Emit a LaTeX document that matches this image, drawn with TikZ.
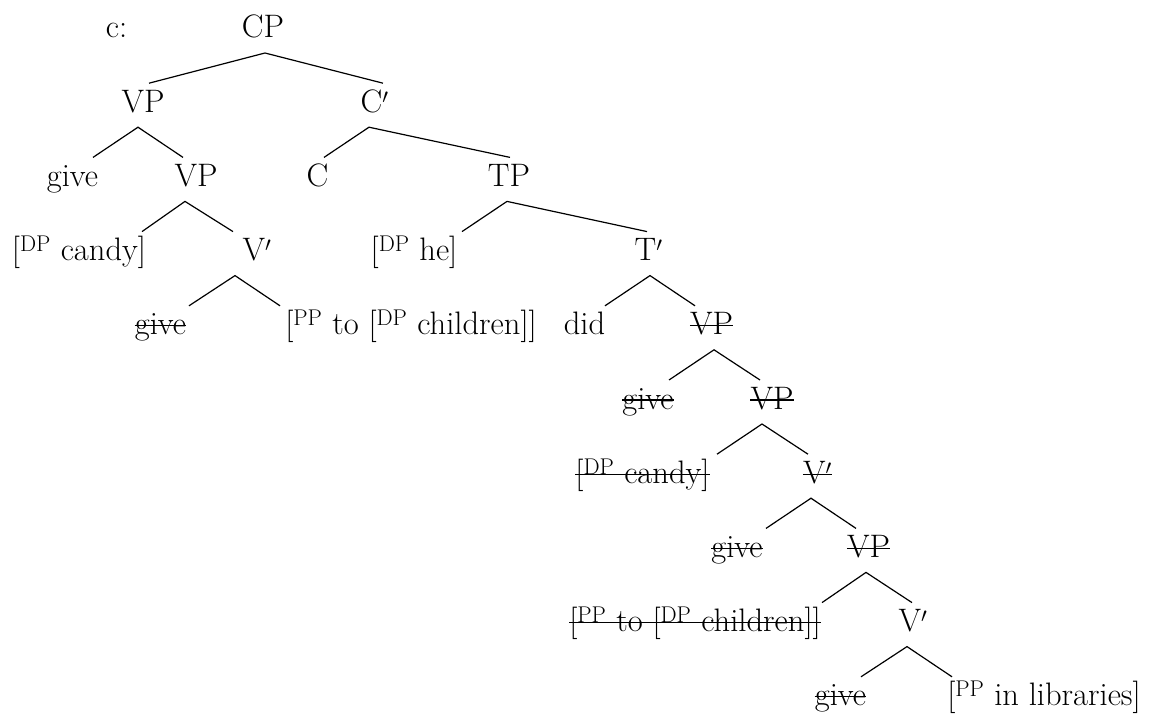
\documentclass[tikz,border=0pt]{standalone}
% fork: parent, apex dx, left child, left dx, right child, right dx
\newcommand\fork[6]{\draw[treeedge] ([shift={(#4,-29)}]#3.base) -- ([shift={(#2,15)}]#1.base) -- ([shift={(#6,-29)}]#5.base);}
\newcommand\strikenode[1]{\draw[strikeline] ([yshift=9pt]#1.base west) -- ([yshift=9pt]#1.base east);}
\begin{document}
\begin{tikzpicture}[x=1pt,y=-1pt,
  every node/.style={inner sep=0pt, anchor=base, font=\fontsize{32.5}{39}\selectfont},
  treeedge/.style={line width=1.2pt, line join=miter},
  strikeline/.style={line width=1.2pt}]
\useasboundingbox (0,0) rectangle (1154,719);
% row 0
\node (lab) at (116.5,38) {c:};
\node (cp) at (263,38) {CP};
% row 1
\node (vp1) at (143,112.2) {VP};
\node (cbar) at (374.5,112.2) {C$'$};
% row 2
\node (give1) at (72.5,186.4) {give};
\node (vp2) at (196,186.4) {VP};
\node (c) at (317.5,186.4) {C};
\node (tp) at (509,186.4) {TP};
% row 3
\node (dp1) at (79,260.6) {[\textsuperscript{DP} candy]};
\node (vbar1) at (257,260.6) {V$'$};
\node (dphe) at (414,260.6) {[\textsuperscript{DP} he]};
\node (tbar) at (648.5,260.6) {T$'$};
% row 4
\node (give2) at (160.5,334.8) {give};
\node (pp1) at (411,334.8) {[\textsuperscript{PP} to [\textsuperscript{DP} children]]};
\node (did) at (584.5,334.8) {did};
\node (vp3) at (711.5,334.8) {VP};
% row 5
\node (give3) at (648,409) {give};
\node (vp4) at (772,409) {VP};
% row 6
\node (dp2) at (642.5,483.2) {[\textsuperscript{DP} candy]};
\node (vbar2) at (817.5,483.2) {V$'$};
% row 7
\node (give4) at (737,557.4) {give};
\node (vp5) at (868.5,557.4) {VP};
% row 8
\node (pp2) at (695,631.6) {[\textsuperscript{PP} to [\textsuperscript{DP} children]]};
\node (vbar3) at (913,631.6) {V$'$};
% row 9
\node (give5) at (840.5,705.8) {give};
\node (pp3) at (1044,705.8) {[\textsuperscript{PP} in libraries]};
% strike-throughs
\strikenode{give2}
\strikenode{vp3}
\strikenode{give3}
\strikenode{vp4}
\strikenode{dp2}
\strikenode{vbar2}
\strikenode{give4}
\strikenode{vp5}
\strikenode{pp2}
\strikenode{give5}
% edges
\fork{cp}{2}{vp1}{6}{cbar}{8.5}
\fork{vp1}{-5}{give1}{20.5}{vp2}{-13}
\fork{cbar}{-5.5}{c}{6.5}{tp}{1}
\fork{vp2}{-11}{dp1}{63}{vbar1}{-24}
\fork{tp}{-2}{dphe}{48}{tbar}{-1.5}
\fork{vbar1}{-22}{give2}{28.5}{pp1}{-131}
\fork{tbar}{1.5}{did}{20.5}{vp3}{-16.5}
\fork{vp3}{2.5}{give3}{21}{vp4}{-12}
\fork{vp4}{-10}{dp2}{74.5}{vbar2}{-9.5}
\fork{vbar2}{-6.5}{give4}{29}{vp5}{-12.5}
\fork{vp5}{-2.5}{pp2}{127}{vbar3}{-1}
\fork{vbar3}{-6}{give5}{20.5}{pp3}{-92}
\end{tikzpicture}
\end{document}
